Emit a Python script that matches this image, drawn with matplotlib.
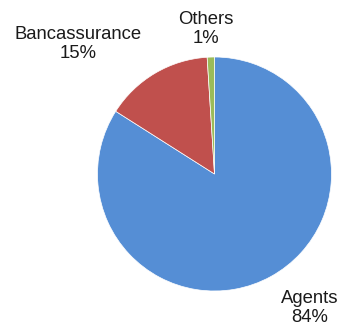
import matplotlib.pyplot as plt

plt.rcParams['font.family'] = ['Liberation Sans', 'DejaVu Sans']

channels = ['Agents', 'Bancassurance', 'Others']
shares = [84, 15, 1]
colors = ['#558ED5', '#C0504D', '#9BBB59']

fig = plt.figure(figsize=(3.39, 3.26), dpi=100)
ax = fig.add_axes([0, 0, 1, 1])
ax.pie(shares, colors=colors, startangle=90, counterclock=False,
       center=(214.5, -174), radius=117,
       wedgeprops={'linewidth': 0.5, 'edgecolor': 'white'})

# label positions in pixel coords of the 339x326 canvas
label_pos = {'Agents': (310, -308), 'Bancassurance': (78, -44), 'Others': (206, -29)}
for name, val in zip(channels, shares):
    x, y = label_pos[name]
    ax.text(x, y, f'{name}\n{val}%', ha='center', va='center',
            fontsize=13.3, linespacing=1.22, color='#1a1a1a')

ax.set_xlim(0, 339)
ax.set_ylim(-326, 0)
ax.set_aspect('equal')
ax.axis('off')
fig.savefig('out.png', dpi=100)
